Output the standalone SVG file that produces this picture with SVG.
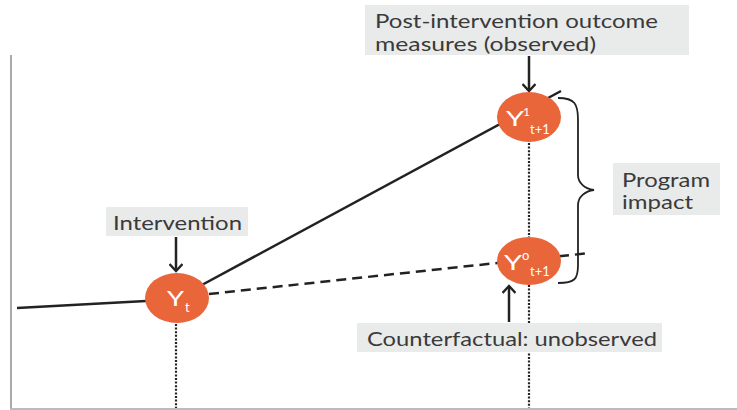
<svg xmlns="http://www.w3.org/2000/svg" width="737" height="410" viewBox="0 0 737 410">
<defs>
<style>
.lbl{fill:#e9eaea}
.t{font-family:Lato,"Open Sans","Noto Sans",sans-serif;font-size:19px;fill:#3a3a3a}
.nt{font-family:Lato,"Open Sans","Noto Sans",sans-serif;fill:#fff}
.node{fill:#e9663b}
.ln{stroke:#222;stroke-width:2.5;fill:none}
.dot{stroke:#222;stroke-width:2.2;stroke-dasharray:2 1.6;fill:none}
.arr{stroke:#222;stroke-width:2.5;fill:none;marker-end:url(#ah)}
</style>
<marker id="ah" viewBox="0 0 14 14" refX="11" refY="7" markerWidth="14" markerHeight="14" markerUnits="userSpaceOnUse" orient="auto">
<polyline points="4,0.5 11,7 4,13.5" fill="none" stroke="#222" stroke-width="2.4"/>
</marker>
</defs>
<rect width="737" height="410" fill="#fff"/>
<g id="axes">
<line x1="11" y1="55" x2="11" y2="409" stroke="#aaa" stroke-width="2"/>
<line x1="10" y1="409" x2="737" y2="409" stroke="#bbb" stroke-width="2"/>
</g>
<g id="connectors">
<line class="dot" x1="176" y1="324" x2="176" y2="408"/>
<line class="dot" x1="529" y1="143" x2="529" y2="237"/>
<line class="dot" x1="529" y1="285" x2="529" y2="408"/>
<line class="ln" x1="17" y1="308" x2="146" y2="301"/>
<line class="ln" x1="200" y1="286" x2="561" y2="91"/>
<line class="ln" x1="209" y1="294" x2="590" y2="253" stroke-dasharray="10 6"/>
<path d="M558,98 C575,98 578,104 578,120 L578,175 C578,183 585,189 594,190 C585,191 578,197 578,205 L578,265 C578,279 575,283 558,283" fill="none" stroke="#222" stroke-width="1.8"/>
<line class="arr" x1="176" y1="237" x2="176" y2="271"/>
<line class="arr" x1="529" y1="56" x2="529" y2="91"/>
<line class="arr" x1="509" y1="322" x2="509" y2="286"/>
</g>
<g id="node-yt">
<ellipse class="node" cx="177" cy="298" rx="32" ry="25"/>
<text class="nt" x="167" y="306" font-size="21" textLength="17" lengthAdjust="spacingAndGlyphs">Y</text>
<text class="nt" x="185" y="312" font-size="13">t</text>
</g>
<g id="node-y1">
<ellipse class="node" cx="529" cy="117" rx="32" ry="25"/>
<text class="nt" x="506" y="126" font-size="21" textLength="18" lengthAdjust="spacingAndGlyphs">Y</text>
<text class="nt" x="523" y="116" font-size="12">1</text>
<text class="nt" x="530" y="134" font-size="13">t+1</text>
</g>
<g id="node-y0">
<ellipse class="node" cx="529" cy="261" rx="32" ry="24"/>
<text class="nt" x="504" y="270" font-size="21" textLength="18" lengthAdjust="spacingAndGlyphs">Y</text>
<text class="nt" x="522" y="260" font-size="13">o</text>
<text class="nt" x="530" y="276" font-size="13">t+1</text>
</g>
<g id="label-post">
<rect class="lbl" x="365" y="5" width="324" height="50"/>
<text class="t" x="375" y="28" textLength="283" lengthAdjust="spacingAndGlyphs">Post-intervention outcome</text>
<text class="t" x="375" y="51" textLength="221" lengthAdjust="spacingAndGlyphs">measures (observed)</text>
</g>
<g id="label-intervention">
<rect class="lbl" x="106" y="207" width="142" height="29"/>
<text class="t" x="113" y="230" textLength="129" lengthAdjust="spacingAndGlyphs">Intervention</text>
</g>
<g id="label-impact">
<rect class="lbl" x="613" y="163" width="107" height="52"/>
<text class="t" x="622" y="187" textLength="88" lengthAdjust="spacingAndGlyphs">Program</text>
<text class="t" x="622" y="209" textLength="71" lengthAdjust="spacingAndGlyphs">impact</text>
</g>
<g id="label-counterfactual">
<rect class="lbl" x="357" y="323" width="305" height="29"/>
<text class="t" x="367" y="346" textLength="290" lengthAdjust="spacingAndGlyphs">Counterfactual: unobserved</text>
</g>
</svg>
